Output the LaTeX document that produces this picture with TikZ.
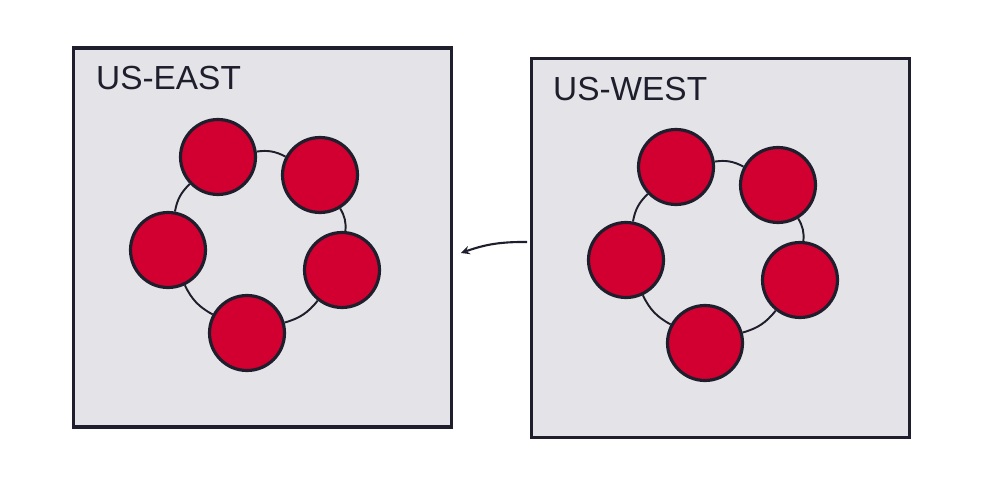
\documentclass[tikz,border=0pt]{standalone}
\usepackage{fontspec}
\setmainfont{Liberation Sans}
\usepackage{xcolor}
\usetikzlibrary{arrows, positioning}
\definecolor{regionfill}{HTML}{E4E4E8}
\definecolor{inkdark}{HTML}{1E1E2C}
\definecolor{noded}{HTML}{D10030}
\tikzset{
    region/.style={draw=inkdark, line width=2.2pt, fill=regionfill, minimum width=7.56cm, minimum height=7.58cm}, % the two data centre boxes
    member/.style={circle, draw=inkdark, line width=1.8pt, fill=noded, minimum size=1.5cm, inner sep=0pt}, % one node of a ring
    ring/.style={draw=inkdark, line width=1.1pt, bend left=18}, % ring links
    tag/.style={anchor=base west, font=\fontsize{19}{19}\selectfont, text=inkdark},
}
\tikzstyle{arrow} = [draw=inkdark, line width=1.2pt, ->, >=stealth]

\begin{document}
\begin{tikzpicture}
                \useasboundingbox (0,0) rectangle (20,10.04);
                % Regioni
                \node[region] (east) at (5.25,5.29) {};
                \node[region] (west) at (14.41,5.08) {};
                \node[tag] (eastlbl) at (1.80,8.24) {US-EAST};
                \node[tag] (westlbl) at (10.94,8.02) {US-WEST};

                % Anello est
                \node[member] (e1) at (4.36,6.90) {};
                \node[member] (e2) at (6.40,6.54) {};
                \node[member] (e3) at (6.84,4.64) {};
                \node[member] (e4) at (4.94,3.38) {};
                \node[member] (e5) at (3.36,5.04) {};

                % Anello ovest
                \node[member] (w1) at (13.52,6.70) {};
                \node[member] (w2) at (15.56,6.34) {};
                \node[member] (w3) at (16.00,4.44) {};
                \node[member] (w4) at (14.10,3.18) {};
                \node[member] (w5) at (12.52,4.84) {};

                % Collegamenti
                \path[ring]
                (e1) edge (e2)
                (e2) edge (e3)
                (e3) edge (e4)
                (e4) edge (e5)
                (e5) edge (e1)
                (w1) edge (w2)
                (w2) edge (w3)
                (w3) edge (w4)
                (w4) edge (w5)
                (w5) edge (w1);

                % Replica
                \coordinate (src) at (10.54,5.20);
                \coordinate (dst) at (9.22,4.98);
                \draw[arrow] (src) to[bend right=10] (dst);

            \end{tikzpicture}
\end{document}
